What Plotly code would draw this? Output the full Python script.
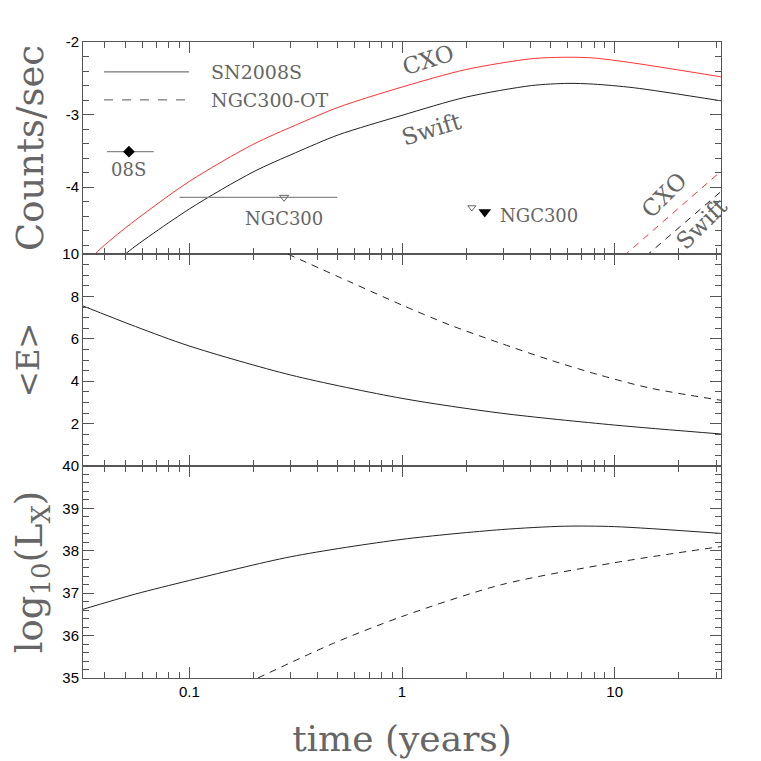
import numpy as np
import plotly.graph_objects as go
from plotly.subplots import make_subplots

# ---- top panel: count rates (log10 counts/sec) ----
T_CXO_08S = [0.0345, 0.0363, 0.0501, 0.1, 0.1995, 0.316, 0.501, 1.0, 1.995, 4.07, 6.03, 7.94, 12.3, 31.6]
Y_CXO_08S = [-5.0, -4.91, -4.56, -3.92, -3.41, -3.145, -2.90, -2.62, -2.38, -2.23, -2.21, -2.22, -2.29, -2.48]
T_SWIFT_08S = [0.048, 0.0501, 0.1, 0.1995, 0.316, 0.501, 1.0, 1.995, 4.07, 6.03, 7.94, 12.3, 31.6]
Y_SWIFT_08S = [-4.99, -4.92, -4.30, -3.79, -3.525, -3.28, -3.01, -2.76, -2.60, -2.57, -2.58, -2.63, -2.81]
T_CXO_OT = [11.0, 31.6]
Y_CXO_OT = [-4.95, -3.78]
T_SWIFT_OT = [14.0, 31.6]
Y_SWIFT_OT = [-4.95, -4.06]

# observed points
T_08S, Y_08S, LO_08S, HI_08S = [0.052], [-3.51], [0.041], [0.068]
T_N300A, Y_N300A, LO_N300A, HI_N300A = [0.279], [-4.14], [0.090], [0.496]
T_N300B_OPEN, Y_N300B_OPEN = [2.13], [-4.28]
T_N300B_FILL, Y_N300B_FILL = [2.45], [-4.34]

# ---- middle panel: mean energy ----
T_E_08S = [0.0316, 0.0558, 0.1, 0.3, 1.0, 2.93, 10.0, 31.6]
E_08S = [7.55, 6.58, 5.66, 4.29, 3.19, 2.49, 1.93, 1.51]
T_E_OT = [0.29, 0.57, 1.0, 1.68, 2.89, 4.97, 8.5, 14.6, 31.6]
E_OT = [10.0, 8.68, 7.59, 6.65, 5.8, 5.0, 4.29, 3.68, 3.1]

# ---- bottom panel: log10 L_X ----
T_L_08S = [0.0316, 0.0558, 0.1, 0.3, 1.0, 2.93, 5.8, 10.0, 31.6]
L_08S = [36.62, 36.98, 37.3, 37.86, 38.27, 38.5, 38.58, 38.57, 38.41]
T_L_OT = [0.21, 0.477, 1.0, 2.93, 10.0, 31.6]
L_OT = [35.0, 35.82, 36.45, 37.2, 37.72, 38.1]

X_MAJOR = [0.1, 1, 10]
X_MINOR = [0.04, 0.05, 0.06, 0.07, 0.08, 0.09,
           0.2, 0.3, 0.4, 0.5, 0.6, 0.7, 0.8, 0.9,
           2, 3, 4, 5, 6, 7, 8, 9, 20, 30]

SERIF = 'DejaVu Serif'
SANS = 'Liberation Sans, Arial'
TXT = '#666'
AX = '#555'
RED = '#ff3333'

fig = make_subplots(rows=3, cols=1, shared_xaxes=True, vertical_spacing=0)


def line(t, y, row, color='#222', dash='solid'):
    fig.add_trace(go.Scatter(
        x=t, y=y, mode='lines', showlegend=False,
        line=dict(color=color, width=1, dash=dash, shape='spline', smoothing=0.8),
    ), row=row, col=1)


dashpat = '7px,6px'
line(T_CXO_08S, Y_CXO_08S, 1, RED)
line(T_SWIFT_08S, Y_SWIFT_08S, 1)
line(T_CXO_OT, Y_CXO_OT, 1, RED, dashpat)
line(T_SWIFT_OT, Y_SWIFT_OT, 1, '#222', dashpat)
line(T_E_08S, E_08S, 2)
line(T_E_OT, E_OT, 2, '#222', dashpat)
line(T_L_08S, L_08S, 3)
line(T_L_OT, L_OT, 3, '#222', dashpat)

# data points with horizontal error bars
fig.add_trace(go.Scatter(
    x=T_08S, y=Y_08S, mode='markers', showlegend=False,
    marker=dict(symbol='diamond', size=9, color='black'),
    error_x=dict(type='data', symmetric=False,
                 array=[h - t for h, t in zip(HI_08S, T_08S)],
                 arrayminus=[t - l for l, t in zip(LO_08S, T_08S)],
                 color='#888', thickness=1.2, width=0),
), row=1, col=1)
fig.add_trace(go.Scatter(
    x=T_N300A, y=Y_N300A, mode='markers', showlegend=False,
    marker=dict(symbol='triangle-down-open', size=8, color='#666', line=dict(width=1)),
    error_x=dict(type='data', symmetric=False,
                 array=[h - t for h, t in zip(HI_N300A, T_N300A)],
                 arrayminus=[t - l for l, t in zip(LO_N300A, T_N300A)],
                 color='#888', thickness=1.2, width=0),
), row=1, col=1)
fig.add_trace(go.Scatter(
    x=T_N300B_OPEN, y=Y_N300B_OPEN, mode='markers', showlegend=False,
    marker=dict(symbol='triangle-down-open', size=7, color='#666', line=dict(width=1)),
), row=1, col=1)
fig.add_trace(go.Scatter(
    x=T_N300B_FILL, y=Y_N300B_FILL, mode='markers', showlegend=False,
    marker=dict(symbol='triangle-down', size=11, color='black'),
), row=1, col=1)

# text labels
lab = dict(showarrow=False, font=dict(family=SERIF, size=23, color=TXT), xref='x', yref='y')
fig.add_annotation(x=np.log10(1.32), y=-2.25, text='CXO', textangle=-17, **lab)
fig.add_annotation(x=np.log10(1.38), y=-3.20, text='Swift', textangle=-17, **lab)
fig.add_annotation(x=np.log10(17.1), y=-4.11, text='CXO', textangle=-45, **lab)
fig.add_annotation(x=np.log10(25.5), y=-4.50, text='Swift', textangle=-45, **lab)
small = dict(showarrow=False, font=dict(family=SERIF, size=18, color=TXT), xref='x', yref='y')
fig.add_annotation(x=np.log10(T_08S[0]), y=Y_08S[0], yshift=-18, text='08S', **small)
fig.add_annotation(x=np.log10(T_N300A[0]), y=Y_N300A[0], yshift=-21, text='NGC300', **small)
fig.add_annotation(x=np.log10(2.83), y=-4.39, xanchor='left', text='NGC300', **small)

# legend drawn by hand (long line samples)
for yy, dash, txt in [(0.953, 'solid', 'SN2008S'), (0.909, 'dash', 'NGC300-OT')]:
    fig.add_shape(type='line', xref='paper', yref='paper', x0=0.033, x1=0.166, y0=yy, y1=yy,
                  line=dict(color='#555', width=1, dash=dash))
    fig.add_annotation(xref='paper', yref='paper', x=0.197, y=yy, xanchor='left', yanchor='middle',
                       showarrow=False, text=txt, font=dict(family=SERIF, size=19, color=TXT))

xcommon = dict(
    type='log', range=[-1.5, 1.5], showline=True, linecolor=AX, linewidth=1, mirror='allticks',
    ticks='inside', ticklen=11, tickcolor=AX, tickmode='array', tickvals=X_MAJOR,
    ticktext=['0.1', '1', '10'], showgrid=False, zeroline=False, automargin=False,
    minor=dict(ticks='inside', ticklen=6, tickcolor=AX, tickmode='array', tickvals=X_MINOR),
    tickfont=dict(family=SANS, size=15, color='black'),
)
fig.update_xaxes(**xcommon)
fig.update_xaxes(showticklabels=False, row=1, col=1)
fig.update_xaxes(showticklabels=False, row=2, col=1)
fig.update_xaxes(row=3, col=1, showticklabels=True,
                 title=dict(text='time (years)', standoff=26,
                            font=dict(family=SERIF, size=36, color=TXT)))

ycommon = dict(showline=True, linecolor=AX, linewidth=1, mirror='allticks', ticks='inside',
               ticklen=11, tickcolor=AX, showgrid=False, zeroline=False, automargin=False,
               tickfont=dict(family=SANS, size=15, color='black'))
ytitle = dict(family=SERIF, size=37, color=TXT)
fig.update_yaxes(**ycommon, row=1, col=1, range=[-4.92, -2], tickvals=[-2, -3, -4],
                 ticktext=['-2', '-3', '-4'],
                 minor=dict(ticks='inside', ticklen=6, tickcolor=AX, dtick=0.2, tick0=0),
                 title=dict(text='Counts/sec', font=ytitle, standoff=10))
fig.update_yaxes(**ycommon, row=2, col=1, range=[0, 10], tickvals=[2, 4, 6, 8, 10],
                 minor=dict(ticks='inside', ticklen=6, tickcolor=AX, dtick=0.5, tick0=0),
                 title=dict(text='&lt;E&gt;', font=dict(family=SERIF, size=31, color=TXT), standoff=13))
fig.update_yaxes(**ycommon, row=3, col=1, range=[35, 40], tickvals=[35, 36, 37, 38, 39, 40],
                 minor=dict(ticks='inside', ticklen=6, tickcolor=AX, dtick=0.2, tick0=0),
                 title=dict(text='log<sub>10</sub>(L<sub>X</sub>)', font=ytitle, standoff=10))

# the page adds an 8px body margin, so the margins are trimmed to land the frame where the reference has it
fig.update_layout(
    width=761, height=761,
    margin=dict(l=75, r=48, t=34, b=91),
    paper_bgcolor='white', plot_bgcolor='white',
    showlegend=False,
)

fig.write_html('out.html')
